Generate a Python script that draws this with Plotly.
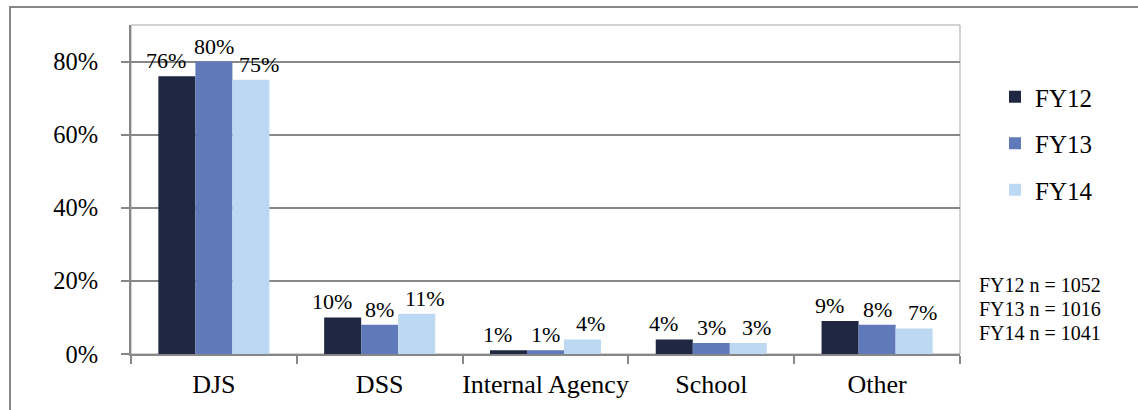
import plotly.graph_objects as go

categories = ["DJS", "DSS", "Internal Agency", "School", "Other"]
fy12 = [76, 10, 1, 4, 9]
fy13 = [80, 8, 1, 3, 8]
fy14 = [75, 11, 4, 3, 7]
series_names = ["FY12", "FY13", "FY14"]
series_colors = ["#1F2743", "#5F79B9", "#BDD8F2"]
sample_notes = ["FY12 n = 1052", "FY13 n = 1016", "FY14 n = 1041"]

FONT = "Liberation Serif"
W, H = 1138, 410
L, R, T, B = 131, 178, 25, 56
pw, ph = W - L - R, H - T - B
BARGAP = 0.33
# data labels of the outer bars are nudged sideways so neighbours don't collide
label_nudge = [-11, 0, 8]

fig = go.Figure()
series = [fy12, fy13, fy14]
n_series = len(series)
bar_w = (1 - BARGAP) / n_series
for k, (name, vals, col) in enumerate(zip(series_names, series, series_colors)):
    fig.add_trace(go.Bar(
        x=categories, y=vals, name=name, marker=dict(color=col, line=dict(width=0)),
        legendgroup=name,
    ))
    for i, v in enumerate(vals):
        fig.add_annotation(
            x=i + (k - (n_series - 1) / 2) * bar_w, y=v, xref="x", yref="y",
            text=f"{v}%", showarrow=False, yanchor="bottom", xanchor="center",
            xshift=label_nudge[k], yshift=1,
            font=dict(family=FONT, size=22, color="#000000"),
        )

# sample sizes
for k, note in enumerate(sample_notes):
    fig.add_annotation(
        text=note, xref="paper", yref="paper", showarrow=False,
        x=(977 - L) / pw, xanchor="left",
        y=(H - B - (285 + 24 * k)) / ph, yanchor="middle",
        font=dict(family=FONT, size=20, color="#000000"),
    )

# plot-area border and outer frame
fig.add_shape(type="rect", xref="paper", yref="paper", x0=0, x1=1, y0=0, y1=1,
              line=dict(color="#A6A6A6", width=1), layer="below")
fig.add_shape(type="rect", xref="paper", yref="paper",
              x0=(10 - L) / pw, x1=(1160 - L) / pw,
              y0=(H - B - 430) / ph, y1=1 + (T - 7) / ph,
              line=dict(color="#878787", width=2))

fig.update_layout(
    width=W, height=H,
    margin=dict(l=L, r=R, t=T, b=B, autoexpand=False),
    paper_bgcolor="white", plot_bgcolor="white",
    font=dict(family=FONT, size=24, color="#000000"),
    barmode="group", bargap=BARGAP, bargroupgap=0,
    showlegend=True,
    legend=dict(
        x=(995 - L) / pw, xanchor="left", y=(H - B - 74) / ph, yanchor="top",
        font=dict(family=FONT, size=25, color="#000000"), tracegroupgap=11,
        bgcolor="rgba(0,0,0,0)", itemwidth=30,
    ),
    xaxis=dict(
        type="category", tickson="boundaries", ticks="outside", ticklen=8,
        tickcolor="#878787", tickwidth=2, showline=True, linecolor="#878787",
        linewidth=2, showgrid=False, ticklabelstandoff=6, tickangle=0,
        automargin=False,
        tickfont=dict(family=FONT, size=26, color="#000000"),
    ),
    yaxis=dict(
        range=[0, 90], tickvals=[0, 20, 40, 60, 80],
        ticktext=["0%", "20%", "40%", "60%", "80%"],
        ticks="outside", ticklen=8, tickcolor="#878787", tickwidth=2,
        showline=True, linecolor="#878787", linewidth=2,
        showgrid=True, gridcolor="#878787", gridwidth=2, zeroline=False,
        ticklabelstandoff=18, automargin=False,
        tickfont=dict(family=FONT, size=24.5, color="#000000"),
    ),
)

fig.write_html("out.html")
